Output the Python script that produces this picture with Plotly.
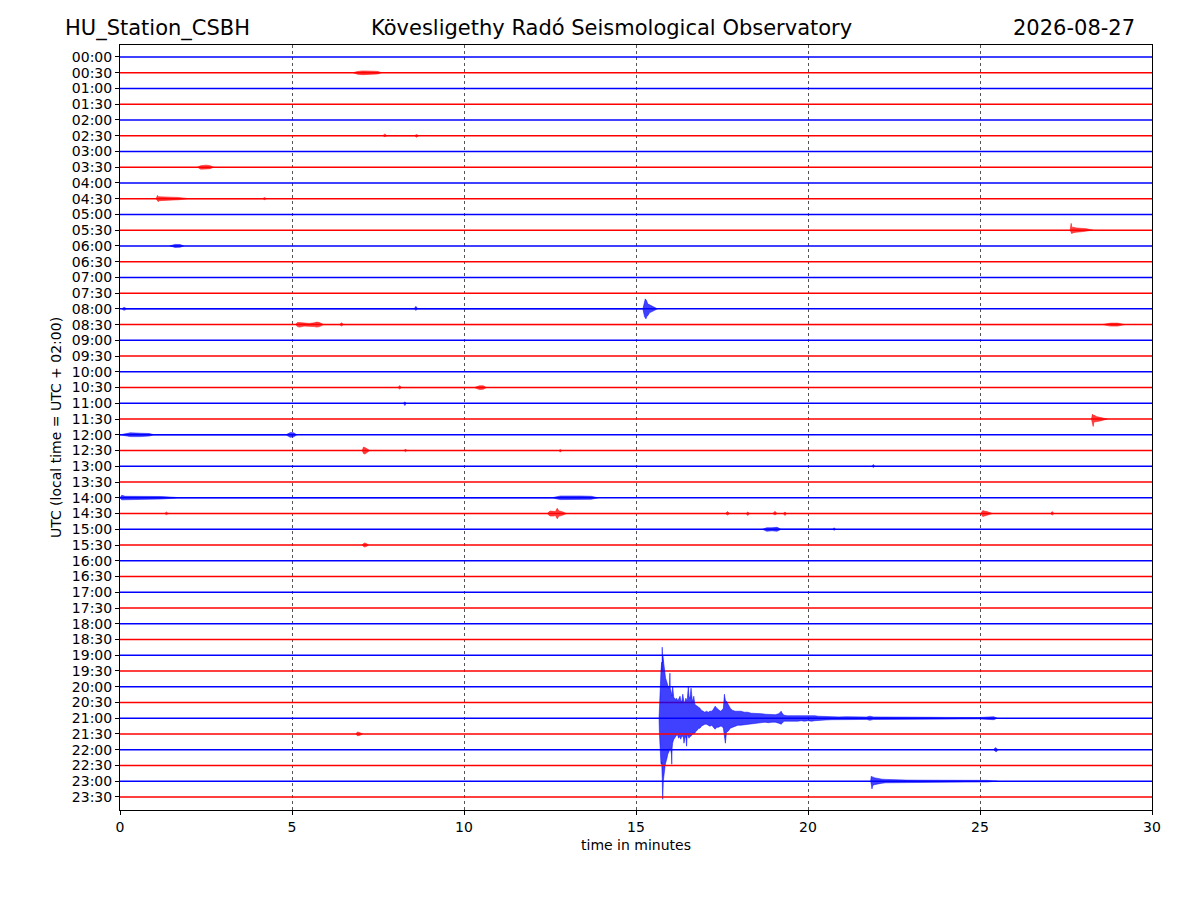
import plotly.graph_objects as go

# ---------------- data ----------------
ROW_LABELS = ["%02d:%02d" % (h, m) for h in range(24) for m in (0, 30)]
X_TICKS = [0, 5, 10, 15, 20, 25, 30]
TRACE_START, TRACE_END = 0.0, 30.0
PX_PER_ROW = 15.74   # amplitude units (pixels of the original record) per row spacing

# bursts as envelopes: time (min), amplitude above line, amplitude below line
R01_T = [6.78, 6.9, 7.05, 7.2, 7.35, 7.5, 7.6]
R01_U = [0, 1.2, 1.8, 2, 1.5, 1.2, 0]
R01_D = [0, 1.5, 2, 1.8, 1.5, 1.2, 0]
R05_T = [7.64, 7.70, 7.76, 8.56, 8.62, 8.68]
R05_U = [0, 1.8, 0, 0, 1.2, 0]
R05_D = [0, 1.0, 0, 0, 1.6, 0]
R07_T = [2.25, 2.35, 2.5, 2.62, 2.72]
R07_U = [0, 1.5, 2, 1.5, 0]
R07_D = [0, 2, 1.8, 1.5, 0]
R09_T = [1.05, 1.09, 1.11, 1.14, 1.25, 1.45, 1.7, 2.0, 4.15, 4.2, 4.25]
R09_U = [0, 3.3, 2, 2, 1.6, 1.5, 1.2, 0, 0, 1.2, 0]
R09_D = [0, 2, 3, 2, 1.6, 1.4, 1.1, 0, 0, 1, 0]
R11_T = [27.62, 27.65, 27.67, 27.70, 27.80, 27.95, 28.10, 28.28]
R11_U = [0, 6.8, 2.5, 3, 2.2, 2, 1.4, 0]
R11_D = [0, 2, 3.7, 2.5, 2, 1.6, 1.2, 0]
R12_T = [1.45, 1.6, 1.75, 1.85]
R12_U = [0, 1.5, 1.3, 0]
R12_D = [0, 1.5, 1.3, 0]
R16_T = [0.05, 0.12, 0.2, 8.55, 8.6, 8.66, 15.20, 15.23, 15.25, 15.27, 15.29, 15.31,
         15.34, 15.39, 15.45, 15.54, 15.62]
R16_U = [0, 1.5, 0, 0, 2.5, 0, 0, 6, 7, 10, 9, 8, 5, 4, 3, 1.5, 0]
R16_D = [0, 1.5, 0, 0, 1.5, 0, 0, 5, 8, 9, 10, 8, 7, 4, 3, 1.5, 0]
R17_T = [5.10, 5.16, 5.22, 5.35, 5.5, 5.65, 5.72, 5.8, 5.92, 6.38, 6.44, 6.50,
         28.55, 28.8, 29.0, 29.2]
R17_U = [0, 2.2, 2, 1.5, 1.2, 1.8, 2.5, 2, 0, 0, 1.8, 0, 0, 1.5, 1.5, 0]
R17_D = [0, 2, 2.5, 1.5, 1.5, 2, 2.5, 2, 0, 0, 1.5, 0, 0, 1.5, 1.5, 0]
R21_T = [8.08, 8.13, 8.18, 10.30, 10.45, 10.56, 10.65]
R21_U = [0, 2, 0, 0, 1.8, 1.8, 0]
R21_D = [0, 1.5, 0, 0, 2, 1.6, 0]
R22_T = [8.24, 8.28, 8.32]
R22_U = [0, 1.5, 0]
R22_D = [0, 2.2, 0]
R23_T = [28.24, 28.27, 28.29, 28.31, 28.38, 28.50, 28.70]
R23_U = [0, 5, 3, 4, 2.5, 1.8, 0]
R23_D = [0, 3, 7.4, 3, 2.5, 1.8, 0]
R24_T = [0.0, 0.3, 0.6, 0.85, 1.0, 4.82, 4.95, 5.05, 5.14]
R24_U = [0, 2, 1.6, 1.3, 0, 0, 2.2, 2, 0]
R24_D = [0, 1.8, 1.8, 1.2, 0, 0, 2.5, 2, 0]
R25_T = [7.04, 7.08, 7.12, 7.18, 7.26, 8.26, 8.3, 8.34, 12.76, 12.8, 12.84]
R25_U = [0, 3.5, 3, 2, 0, 0, 1.6, 0, 0, 1, 0]
R25_D = [0, 3, 3.5, 2, 0, 0, 1.2, 0, 0, 1.6, 0]
R26_T = [21.86, 21.9, 21.94]
R26_U = [0, 1.8, 0]
R26_D = [0, 1.2, 0]
R28_T = [0.0, 0.05, 0.15, 0.6, 1.2, 1.8, 12.55, 12.8, 13.1, 13.4, 13.7, 13.9]
R28_U = [0, 2.5, 1.5, 1.3, 1.3, 0, 0, 1.8, 2, 1.8, 1.5, 0]
R28_D = [0, 2, 1.5, 1.3, 1.2, 0, 0, 1.8, 2, 1.5, 1.5, 0]
R29_T = [1.30, 1.35, 1.40, 12.42, 12.50, 12.60, 12.66, 12.71, 12.76, 12.84, 12.98,
         17.60, 17.66, 17.72, 18.20, 18.25, 18.30, 18.98, 19.04, 19.10, 19.28, 19.33, 19.38,
         25.02, 25.08, 25.12, 25.20, 25.36, 27.05, 27.1, 27.15]
R29_U = [0, 1.6, 0, 0, 2.5, 2.5, 2, 5.3, 2.5, 2, 0,
         0, 2, 0, 0, 1.5, 0, 0, 2.2, 0, 0, 1.5, 0,
         0, 3, 2.5, 2, 0, 0, 2, 0]
R29_D = [0, 1.2, 0, 0, 2.5, 2.5, 2, 5.3, 2.5, 2, 0,
         0, 1.5, 0, 0, 2, 0, 0, 1.5, 0, 0, 2, 0,
         0, 3, 2.5, 2, 0, 0, 1.5, 0]
R30_T = [18.68, 18.80, 18.95, 19.10, 19.22, 20.72, 20.76, 20.80]
R30_U = [0, 1.5, 1.5, 2, 0, 0, 1.5, 0]
R30_D = [0, 2, 1.5, 2, 0, 0, 1, 0]
R31_T = [7.04, 7.1, 7.16, 7.22]
R31_U = [0, 2, 1.5, 0]
R31_D = [0, 2, 1.5, 0]
R43_T = [6.86, 6.9, 6.96, 7.05]
R43_U = [0, 2, 1.5, 0]
R43_D = [0, 1.8, 1.5, 0]
R44_T = [25.40, 25.44, 25.48, 25.52]
R44_U = [0, 2, 1.5, 0]
R44_D = [0, 1.5, 2, 0]
R46_T = [21.82, 21.84, 21.86, 21.88, 21.92, 21.98, 22.06, 22.15, 22.26, 22.40, 22.60,
         22.85, 23.2, 23.6, 24.0, 24.6, 25.2, 25.5]
R46_U = [0, 5, 3.5, 4.5, 3.5, 3, 2.5, 2, 1.8, 1.5, 1.3, 1.1, 1, 1, 0.9, 0.9, 0.8, 0]
R46_D = [0, 3, 7.7, 4.5, 3.5, 3, 2.5, 2, 1.6, 1.4, 1.2, 1.1, 1, 0.9, 0.9, 0.9, 0.8, 0]

# the large earthquake on the 21:00 line
R42_T = [15.670, 15.680, 15.690, 15.700, 15.712, 15.724, 15.736, 15.748, 15.756, 15.762,
         15.768, 15.776, 15.782, 15.788, 15.796, 15.806, 15.818, 15.830, 15.845, 15.860,
         15.880, 15.900, 15.925, 15.950, 15.975, 15.986, 15.995, 16.010, 16.030, 16.040,
         16.050, 16.064, 16.080, 16.100, 16.130, 16.160, 16.180, 16.200, 16.240, 16.280,
         16.300, 16.330, 16.360, 16.380, 16.395, 16.420, 16.450, 16.470, 16.490, 16.520,
         16.540, 16.570, 16.600, 16.630, 16.660, 16.680, 16.710, 16.740, 16.780, 16.820,
         16.860, 16.900, 16.950, 17.000, 17.050, 17.100, 17.150, 17.200, 17.250, 17.300,
         17.350, 17.400, 17.450, 17.500, 17.540, 17.570, 17.598, 17.630, 17.680, 17.740,
         17.800, 17.880, 17.960, 18.050, 18.150, 18.250, 18.350, 18.450, 18.550, 18.650,
         18.750, 18.850, 18.950, 19.050, 19.150, 19.220, 19.250, 19.300, 19.400, 19.500,
         19.600, 19.700, 19.800, 19.900, 20.000, 20.100, 20.200, 20.300, 20.400, 20.500,
         20.700, 20.900, 21.100, 21.300, 21.500, 21.700, 21.800, 21.900, 22.100, 22.400,
         22.800, 23.200, 23.600, 24.000, 24.500, 25.000, 25.400, 25.500]
R42_U = [0, 12, 20, 30, 42, 46, 52, 56, 48, 71,
         50, 55, 62, 60, 58, 52, 50, 48, 42, 40,
         38, 36, 32, 30, 32, 45, 30, 28, 25, 24,
         22, 32, 24, 20, 20, 18, 20, 18, 19, 22,
         18, 16, 24, 16, 16, 16, 20, 18, 18, 32,
         22, 20, 30, 20, 16, 22, 14, 13, 12, 11,
         10, 8, 7, 6, 7, 6, 7, 7, 9, 12,
         10, 8, 7, 8, 10, 24, 18, 17, 13, 10,
         8, 7, 7, 7, 6, 6, 5, 5, 4.5, 4.5,
         4, 4, 4, 3.5, 4.5, 7, 5, 3, 2.5, 2.5,
         3, 3, 2.5, 3, 2.5, 3, 2.5, 2, 1.8, 1.8,
         1.5, 1.3, 1.5, 1.2, 1.3, 1.2, 2, 1.3, 1.2, 1,
         1, 0.9, 0.9, 0.8, 0.8, 0.7, 1.5, 0]
R42_D = [0, 14, 20, 30, 38, 45, 46, 44, 55, 60,
         70, 81, 78, 70, 62, 60, 56, 52, 48, 45,
         42, 40, 36, 34, 32, 30, 30, 32, 36, 46,
         30, 25, 23, 21, 19, 17, 17, 16, 20, 18,
         21, 18, 18, 20, 25, 20, 18, 28, 16, 18,
         20, 18, 18, 16, 16, 15, 15, 13, 12, 10,
         10, 8, 7, 6, 6, 7, 8, 7, 9, 11,
         9, 9, 8, 8, 10, 16, 25, 14, 13, 10,
         9, 8, 7, 7, 7, 6, 6, 5, 5, 4.5,
         4, 4.5, 4, 4, 5, 6, 5, 3, 2.5, 2.5,
         3, 3, 2.5, 3, 2.5, 3, 2.5, 2, 1.8, 1.8,
         1.5, 1.3, 1.5, 1.2, 1.3, 1.2, 2, 1.3, 1.2, 1,
         1, 0.9, 0.9, 0.8, 0.8, 0.7, 1.5, 0]

BURSTS = {
    1: (R01_T, R01_U, R01_D), 5: (R05_T, R05_U, R05_D), 7: (R07_T, R07_U, R07_D),
    9: (R09_T, R09_U, R09_D), 11: (R11_T, R11_U, R11_D), 12: (R12_T, R12_U, R12_D),
    16: (R16_T, R16_U, R16_D), 17: (R17_T, R17_U, R17_D), 21: (R21_T, R21_U, R21_D),
    22: (R22_T, R22_U, R22_D), 23: (R23_T, R23_U, R23_D), 24: (R24_T, R24_U, R24_D),
    25: (R25_T, R25_U, R25_D), 26: (R26_T, R26_U, R26_D), 28: (R28_T, R28_U, R28_D),
    29: (R29_T, R29_U, R29_D), 30: (R30_T, R30_U, R30_D), 31: (R31_T, R31_U, R31_D),
    42: (R42_T, R42_U, R42_D), 43: (R43_T, R43_U, R43_D), 44: (R44_T, R44_U, R44_D),
    46: (R46_T, R46_U, R46_D),
}

COLORS = ["#0000ff", "#ff0000"]
FILLS = ["rgba(0,0,255,0.75)", "rgba(255,0,0,0.75)"]
FONT = "DejaVu Sans"

# ---------------- figure ----------------
fig = go.Figure()
for i, lab in enumerate(ROW_LABELS):
    fig.add_trace(go.Scatter(
        x=[TRACE_START, TRACE_END], y=[i, i], mode="lines",
        line=dict(color=COLORS[i % 2], width=1.5),
        hoverinfo="skip", showlegend=False,
    ))
    if i in BURSTS:
        ts, up, dn = BURSTS[i]
        xs = list(ts) + list(ts)[::-1]
        ys = [i - u / PX_PER_ROW for u in up] + [i + d / PX_PER_ROW for d in list(dn)[::-1]]
        fig.add_trace(go.Scatter(
            x=xs, y=ys, mode="lines", fill="toself", fillcolor=FILLS[i % 2],
            line=dict(color=COLORS[i % 2], width=0.5),
            hoverinfo="skip", showlegend=False,
        ))

fig.update_layout(
    width=1200, height=900,
    margin=dict(l=112, r=56, t=37, b=98),
    paper_bgcolor="white", plot_bgcolor="white",
    font=dict(family=FONT, size=14, color="black"),
    xaxis=dict(
        range=[0, 30], tickvals=X_TICKS, ticktext=[str(v) for v in X_TICKS],
        showline=True, mirror=True, linecolor="black", linewidth=1,
        ticks="outside", ticklen=4, tickwidth=1, tickcolor="black",
        showgrid=True, gridcolor="#555555", griddash="dot", gridwidth=0.6,
        zeroline=False,
        title=dict(text="time in minutes", font=dict(size=14), standoff=6),
    ),
    yaxis=dict(
        range=[47.83, -0.76], tickvals=list(range(len(ROW_LABELS))), ticktext=ROW_LABELS,
        showline=True, mirror=True, linecolor="black", linewidth=1,
        ticks="outside", ticklen=4, tickwidth=1, tickcolor="black",
        showgrid=False, zeroline=False,
        title=dict(text="UTC (local time = UTC + 02:00)", font=dict(size=14), standoff=6),
    ),
    annotations=[
        dict(text="HU_Station_CSBH", xref="paper", yref="paper", x=(63 - 120) / 1032,
             y=1 + 17 / 765, xanchor="left", yanchor="middle", showarrow=False,
             font=dict(size=21, family=FONT)),
        dict(text="Kövesligethy Radó Seismological Observatory", xref="paper", yref="paper",
             x=(611.5 - 120) / 1032, y=1 + 17 / 765, xanchor="center", yanchor="middle",
             showarrow=False, font=dict(size=21, family=FONT)),
        dict(text="2026-08-27", xref="paper", yref="paper", x=(1137 - 120) / 1032,
             y=1 + 17 / 765, xanchor="right", yanchor="middle", showarrow=False,
             font=dict(size=21, family=FONT)),
    ],
)

fig.write_html("out.html")
